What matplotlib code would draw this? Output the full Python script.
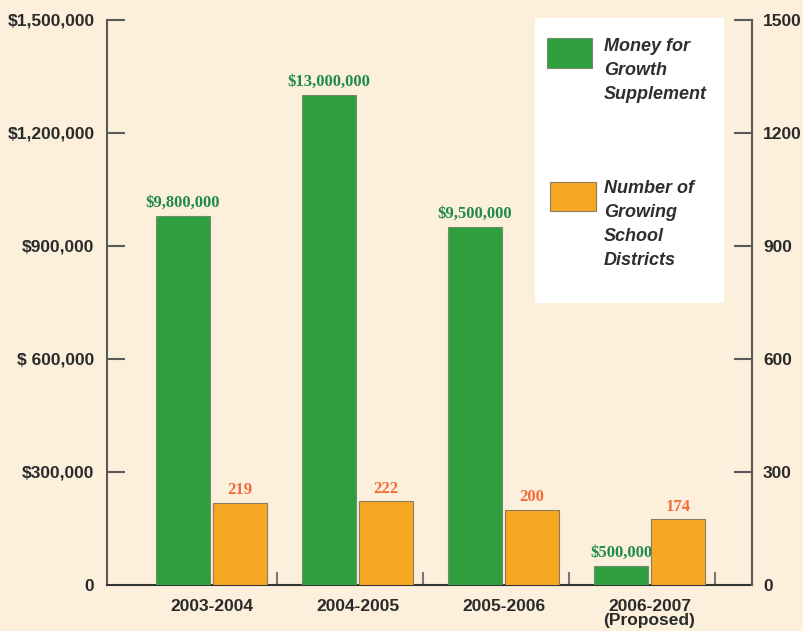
import matplotlib
matplotlib.use("Agg")
import matplotlib.pyplot as plt
from matplotlib.patches import Rectangle
import numpy as np

# ---- data ----
categories = ["2003-2004", "2004-2005", "2005-2006", "2006-2007\n(Proposed)"]
money_heights = [980000, 1300000, 950000, 50000]          # as drawn on left axis
money_labels = ["$9,800,000", "$13,000,000", "$9,500,000", "$500,000"]
districts = [219, 222, 200, 174]
left_ticks = [0, 300000, 600000, 900000, 1200000, 1500000]
left_ticklabels = ["0", "$300,000", "$ 600,000", "$900,000", "$1,200,000", "$1,500,000"]
right_ticks = [0, 300, 600, 900, 1200, 1500]
right_ticklabels = ["0", "300", "600", "900", "1200", "1500"]
legend_labels = ["Money for\nGrowth\nSupplement", "Number of\nGrowing\nSchool\nDistricts"]

BG = "#fcefdc"
GREEN = "#2f9e3f"
ORANGE = "#f7a823"
GREEN_TXT = "#1f8a4c"
ORANGE_TXT = "#f26c3a"
AXC = "#5a5a5a"
TXT = "#2a2a2a"
NARROW = ["Liberation Sans Narrow", "Liberation Sans", "DejaVu Sans"]
SERIF = ["Liberation Serif", "DejaVu Serif"]

fig = plt.figure(figsize=(8.04, 6.31), dpi=100, facecolor=BG)
ax = fig.add_axes([107/804, 1 - 585/631, (752-107)/804, (585-20)/631])
ax.set_facecolor("none")
ax2 = ax.twinx()

x = np.arange(len(categories))
w = 0.365
off = 0.195

ax.bar(x - off, money_heights, width=w, color=GREEN, edgecolor="#6f8f6a", linewidth=0.8, zorder=3)
ax2.bar(x + off, districts, width=w, color=ORANGE, edgecolor="#8a7a60", linewidth=0.8, zorder=3)

for xi, h, lab in zip(x, money_heights, money_labels):
    ax.text(xi - off, h + 14000, lab, ha="center", va="bottom", color=GREEN_TXT,
            fontsize=12, fontweight="bold", family=SERIF, zorder=4)
for xi, d in zip(x, districts):
    ax2.text(xi + off, d + 12, str(d), ha="center", va="bottom", color=ORANGE_TXT,
             fontsize=12, fontweight="bold", family=SERIF, zorder=4)

ax.set_xlim(-0.716, 3.702)
ax.set_ylim(0, 1500000)
ax2.set_ylim(0, 1500)

ax.set_yticks(left_ticks)
ax.set_yticklabels(left_ticklabels)
ax2.set_yticks(right_ticks)
ax2.set_yticklabels(right_ticklabels)

ax.set_xticks(x)
ax.set_xticklabels(categories, family=NARROW, fontweight="bold", fontsize=12.5,
                   color=TXT, linespacing=0.95)
ax.tick_params(axis="x", length=0, pad=10)

for a in (ax, ax2):
    for s in a.spines.values():
        s.set_visible(False)

ax.spines["left"].set_visible(True)
ax.spines["left"].set_color(AXC)
ax.spines["left"].set_linewidth(1.5)
ax.spines["bottom"].set_visible(True)
ax.spines["bottom"].set_color("#333333")
ax.spines["bottom"].set_linewidth(1.5)
ax2.spines["right"].set_visible(True)
ax2.spines["right"].set_color(AXC)
ax2.spines["right"].set_linewidth(1.5)

ax.tick_params(axis="y", direction="in", length=13, width=1.5, color=AXC, pad=9,
               labelsize=12.5, labelcolor=TXT)
ax2.tick_params(axis="y", direction="in", length=13, width=1.5, color=AXC, pad=8,
                labelsize=12.5, labelcolor=TXT)
for lab in ax.get_yticklabels() + ax2.get_yticklabels():
    lab.set_family(NARROW)
    lab.set_fontweight("bold")

# hide the zero tick marks (labels kept)
ax.yaxis.get_major_ticks()[0].tick1line.set_visible(False)
ax2.yaxis.get_major_ticks()[0].tick2line.set_visible(False)

# small separator ticks between groups
for xi in x:
    ax.plot([xi + 0.45, xi + 0.45], [0, 32000], color="#777777", lw=1.5, zorder=2,
            clip_on=False)

# legend box
fig.patches.append(Rectangle((535/804, 1 - 303/631), (724-535)/804, (303-18)/631,
                             transform=fig.transFigure, facecolor="white",
                             edgecolor="none", zorder=5))
legend_items = [(GREEN, "#6f8f6a", 38, 68, 547, 592, 38), (ORANGE, "#8a7a60", 182, 211, 550, 596, 180)]
for (fc, ec, y0, y1, x0, x1, ty), lab in zip(legend_items, legend_labels):
    fig.patches.append(Rectangle((x0/804, 1 - y1/631), (x1-x0)/804, (y1-y0)/631,
                                 transform=fig.transFigure, facecolor=fc,
                                 edgecolor=ec, linewidth=0.8, zorder=6))
    fig.text(604/804, 1 - ty/631, lab, ha="left", va="top", fontsize=13,
             fontstyle="italic", fontweight="bold", family=NARROW, color="#2e2e2e",
             linespacing=1.55, zorder=7)

fig.savefig("out.png", dpi=100, facecolor=BG)
